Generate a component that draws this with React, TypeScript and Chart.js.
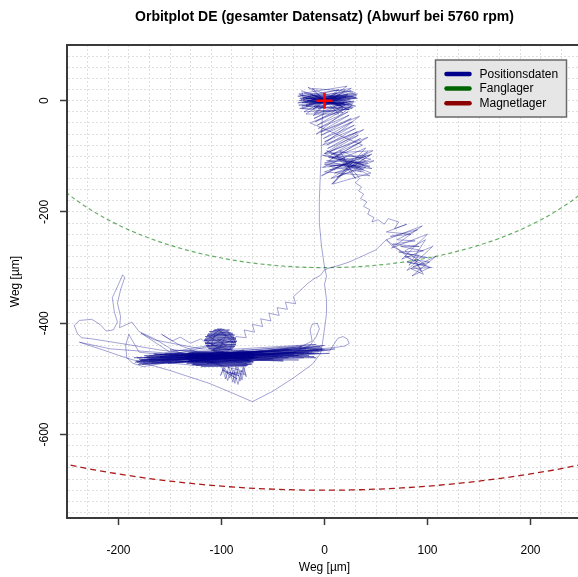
import React, { useEffect, useRef } from "react";
import { Chart, registerables } from "chart.js";

Chart.register(...registerables);

const TITLE = "Orbitplot DE (gesamter Datensatz) (Abwurf bei 5760 rpm)";
const X_LABEL = "Weg [µm]";
const Y_LABEL = "Weg [µm]";
const X_MIN = -250;
const X_MAX = 250;
const Y_MIN = -750;
const Y_MAX = 100;
const X_TICKS = [-200, -100, 0, 100, 200];
const Y_TICKS = [0, -200, -400, -600];

const SERIES_LABELS = ["Positionsdaten", "Fanglager", "Magnetlager"];
const SERIES_COLORS = ["#00008B", "#006400", "#8B0000"];

// Fanglager (radius 300), lower arc
const fangX = [-275, -250, -225, -200, -175, -150, -125, -100, -75, -50, -25, 0, 25, 50, 75, 100, 125, 150, 175, 200, 225, 250, 275];
const fangY = [-119.9, -165.8, -198.4, -223.6, -243.7, -259.8, -272.7, -282.8, -290.5, -295.8, -299.0, -300, -299.0, -295.8, -290.5, -282.8, -272.7, -259.8, -243.7, -223.6, -198.4, -165.8, -119.9];

// Magnetlager (radius 700), lower arc
const magX = [-300, -275, -250, -225, -200, -175, -150, -125, -100, -75, -50, -25, 0, 25, 50, 75, 100, 125, 150, 175, 200, 225, 250, 275, 300];
const magY = [-632.5, -643.7, -653.8, -662.9, -670.8, -677.8, -683.7, -688.7, -692.8, -696.0, -698.2, -699.6, -700, -699.6, -698.2, -696.0, -692.8, -688.7, -683.7, -677.8, -670.8, -662.9, -653.8, -643.7, -632.5];

// Position trace, pieces in time order [x, y]
const traceOrigin = [
  [0, 0], [-18, 4], [22, -3], [-15, -6], [28, 8], [-20, 2], [18, -10], [-12, 10], [25, 3], [-22, -4],
  [15, 12], [-8, -12], [30, 5], [-25, 0], [20, -6], [-16, 8], [26, -2], [-10, -10], [12, 14], [-20, 6],
  [24, -8], [-14, -2], [32, 12], [-18, -8], [16, 4], [-24, 4], [22, 10], [-6, -14], [28, -4], [-20, -2],
  [-22, 18], [24, -16], [-20, -20], [26, 22], [-26, 8], [30, -10], [-16, 24], [18, -22], [-24, -14], [28, 16],
  [-12, 22], [14, -24], [-18, -24], [22, 26], [-25, 12], [27, -14], [-10, -22], [20, 18], [-22, -10], [31, 6],
  [-24, 10], [28, -12], [-22, -14], [30, 14], [-26, -4], [32, 4], [-20, 14], [24, -16], [-18, -10], [26, 18],
  [-23, 2], [27, -8], [-14, 12], [18, -14], [-25, -8], [31, 9], [-17, 0], [21, 6], [-11, -15], [14, 20],
  [-21, 5], [29, -2], [-9, 8], [19, -5], [-19, -3], [23, 11], [-13, 3], [16, -9], [-6, 6], [4, -2],
];
const traceUpper = [
  [-11, -27], [19, -3], [-10, -32], [20, -8], [-9, -38], [21, -14], [-7, -44], [23, -20], [-6, -50], [24, -26],
  [-4, -56], [26, -32], [-3, -62], [27, -38], [-1, -68], [29, -44], [0, -74], [30, -50], [2, -80], [32, -56],
  [3, -86], [33, -62], [5, -92], [35, -68], [6, -98], [36, -74], [7, -104], [37, -80],
  [-14, -40], [26, -10], [-8, -60], [34, -28], [-2, -80], [38, -52], [0, -95], [42, -66], [4, -108],
  [20, -105], [-2, -98], [44, -118], [0, -112], [40, -100], [5, -125], [42, -112], [2, -108], [38, -125], [8, -95],
  [45, -105], [10, -130], [35, -118], [0, -115], [46, -122], [12, -100], [30, -140], [15, -90], [40, -108], [5, -118],
  [36, -128], [18, -112], [28, -104], [22, -120], [7, -150], [42, -92], [-3, -135], [47, -90], [0, -95], [45, -130],
  [8, -150], [40, -85], [-2, -120], [48, -108], [12, -138], [44, -98], [4, -102], [38, -115], [2, -90], [44, -135],
  [0, -128], [46, -96], [6, -140], [40, -120], [20, -115],
];
const traceRidge = [
  [30, -130], [34, -140], [30, -148], [36, -155], [33, -162], [38, -168], [35, -176], [41, -182], [38, -190], [44, -196],
  [42, -204], [48, -210], [46, -218], [52, -214], [58, -222], [62, -212], [72, -218], [68, -230], [80, -222], [60, -236],
  [84, -240], [64, -244], [90, -232], [70, -250], [88, -252], [66, -258], [92, -262], [74, -262], [96, -270], [72, -272],
  [100, -282], [78, -280], [98, -296], [80, -290], [104, -300], [84, -302], [96, -312], [88, -286], [102, -290], [86, -298],
  [94, -306], [90, -294], [60, -250], [95, -225], [65, -265], [100, -240], [75, -285], [105, -262], [80, -305], [108, -280],
  [85, -315], [102, -300], [78, -270], [98, -250], [82, -296], [92, -278], [80, -276], [66, -262], [60, -250],
];
const traceReturn = [
  [50, -268], [36, -280], [24, -290], [14, -296], [6, -300], [0, -304], [-4, -314], [-10, -320], [-16, -328], [-24, -342],
  [-30, -352], [-28, -365], [-38, -362], [-36, -375], [-46, -372], [-44, -386], [-54, -382], [-52, -396], [-62, -392], [-60, -406],
  [-70, -402], [-68, -416], [-78, -412], [-76, -426], [-86, -424], [-88, -436],
];
const traceHead = [
  [-104, -410], [-97, -411], [-108, -413], [-93, -414], [-111, -416], [-91, -417], [-113, -419], [-89, -420], [-114, -422], [-88, -423],
  [-115, -425], [-87, -426], [-116, -428], [-86, -429], [-117, -431], [-85, -432], [-116, -434], [-86, -435], [-116, -437], [-86, -438],
  [-115, -440], [-87, -441], [-114, -443], [-88, -444], [-112, -446], [-90, -447], [-110, -449], [-93, -450], [-105, -452],
  [-98, -451], [-109, -448], [-89, -446], [-113, -445], [-87, -442], [-115, -441], [-86, -439], [-116, -436], [-85, -433], [-117, -430],
  [-86, -427], [-116, -424], [-87, -421], [-114, -421], [-89, -418], [-112, -415], [-92, -412], [-107, -412], [-100, -410],
  [-112, -425], [-95, -440], [-108, -447], [-90, -430], [-100, -415], [-114, -435], [-92, -448], [-88, -425], [-106, -418], [-110, -440],
  [-96, -424], [-102, -446], [-116, -430], [-94, -414], [-86, -436], [-104, -428], [-98, -436],
];
const traceBand = [
  [-182, -470], [-5, -450], [-178, -466], [-2, -446], [-180, -472], [-10, -454], [-175, -462], [-4, -442], [-183, -468], [-15, -458],
  [-170, -458], [0, -440], [-181, -474], [-20, -462], [-165, -456], [-6, -448], [-176, -470], [-25, -466], [-160, -460], [-3, -444],
  [-179, -467], [-30, -456], [-155, -454], [-8, -438], [-172, -464], [-12, -452], [-168, -472], [-35, -462], [-150, -458], [-2, -448],
  [-184, -470], [-18, -446], [-162, -466], [-28, -452], [-173, -460], [-40, -468], [-145, -456], [-5, -454], [-177, -474], [-22, -442],
  [-158, -468], [-45, -460], [-166, -455], [-10, -460], [-180, -465], [-32, -448], [-152, -472], [-50, -456], [-170, -468], [-14, -444],
];
const traceRightEnd = [
  [5, -450], [13, -427], [18, -424], [22, -428], [24, -436], [20, -441], [8, -444], [-10, -447], [-25, -444], [-12, -432],
  [-14, -412], [-12, -402], [-7, -400], [-5, -410], [-8, -424], [-14, -440], [-30, -452], [-50, -456], [-20, -450], [10, -446],
  [-40, -462], [-60, -466],
];
const traceCore = [
  [-130, -452], [-70, -453], [-133, -454], [-68, -455], [-131, -456], [-72, -457], [-134, -458], [-69, -459], [-130, -460], [-71, -461],
  [-132, -462], [-68, -463], [-135, -464], [-70, -465], [-131, -466], [-73, -467], [-133, -468], [-69, -469], [-130, -470], [-72, -471],
  [-134, -472], [-70, -473], [-128, -474], [-74, -475], [-125, -476], [-76, -477], [-120, -478],
  [-75, -476], [-129, -475], [-71, -474], [-133, -471], [-69, -470], [-131, -467], [-72, -466], [-134, -463], [-70, -462], [-130, -459],
  [-68, -458], [-133, -455], [-71, -454], [-129, -453], [-74, -451],
  [-131, -457], [-67, -460], [-132, -465], [-70, -468], [-128, -472], [-73, -464], [-135, -461], [-69, -456], [-126, -469], [-75, -473],
  [-132, -452],
];
const traceTail = [
  [-100, -476], [-96, -500], [-93, -478], [-89, -506], [-86, -478], [-82, -504], [-79, -478], [-76, -496], [-78, -480], [-80, -502],
  [-84, -479], [-87, -508], [-90, -480], [-94, -503], [-98, -479], [-101, -494], [-97, -480], [-92, -498], [-88, -484], [-84, -510],
  [-81, -486], [-77, -492], [-95, -488], [-85, -500], [-99, -484], [-83, -494], [-91, -491], [-79, -486],
];
const traceLeft = [
  [-130, -462], [-150, -445], [-165, -428], [-180, -415], [-187, -398], [-199, -408], [-198, -388], [-201, -364], [-198, -340], [-194, -318],
  [-196, -313], [-200, -330], [-206, -354], [-204, -380], [-201, -398], [-205, -412], [-212, -414], [-218, -402], [-226, -393], [-238, -395],
  [-243, -404], [-240, -418], [-236, -426], [-226, -428], [-192, -438], [-160, -448], [-112, -460], [-140, -440], [-158, -420], [-148, -432],
  [-140, -425], [-130, -436], [-120, -428], [-112, -440], [-150, -452], [-178, -418], [-165, -430], [-120, -446], [-80, -450], [-60, -452],
  [-100, -458], [-150, -458], [-180, -452], [-190, -420], [-193, -440], [-192, -462], [-186, -472], [-176, -478], [-150, -470], [-100, -465],
  [-40, -460], [-80, -470], [-130, -475], [-170, -468], [-182, -462],
];
const traceBand2 = [
  [-60, -450], [-160, -462], [-15, -452], [-175, -458], [-40, -466], [-145, -470], [5, -454], [-185, -462], [-25, -458], [-150, -448],
  [-8, -462], [-170, -466], [-35, -446], [-130, -468], [0, -448], [-160, -456], [-50, -464], [-120, -458], [-20, -454], [-142, -462],
  [-75, -456], [-112, -466], [-68, -452], [-118, -456], [-72, -468], [-108, -450], [-64, -462], [-114, -472], [-78, -448], [-106, -460],
  [-208, -446], [-238, -434],
];
const traceBottom = [
  [-215, -448], [-193, -462], [-150, -485], [-112, -508], [-90, -525], [-70, -541], [-50, -522], [-30, -498], [-12, -474], [-4, -455],
  [-2, -436], [0, -410], [2, -382], [2, -358], [0, -330], [2, -316], [0, -299], [-3, -260], [-5, -220], [-5, -178],
  [-4, -130], [-3, -90], [-3, -65], [-2, -29], [0, -10],
];

const traceAll = [
  ...traceOrigin, ...traceUpper, ...traceRidge, ...traceReturn, ...traceHead, ...traceBand,
  ...traceRightEnd, ...traceCore, ...traceTail, ...traceLeft, ...traceBand2, ...traceBottom,
];

const FONT = "'Liberation Sans', Arial, Helvetica, sans-serif";

const xGrid: number[] = [];
for (let v = -230; v <= 250; v += 20) xGrid.push(v);
const yGrid: number[] = [];
for (let v = -740; v <= 100; v += 20) yGrid.push(v);
const xTickVals = Array.from(new Set([...xGrid, ...X_TICKS])).sort((a, b) => a - b);
const yTickVals = Array.from(new Set([...yGrid, ...Y_TICKS])).sort((a, b) => a - b);

const GRID_COLOR = "#e0e0e0";
const AXIS_COLOR = "#3a3a3a";

const decorPlugin = {
  id: "decor",
  afterDraw(chart: any) {
    const { ctx, chartArea: a } = chart;
    ctx.save();
    ctx.strokeStyle = AXIS_COLOR;
    ctx.lineWidth = 2;
    ctx.beginPath();
    ctx.moveTo(a.left - 1, a.top);
    ctx.lineTo(a.right + 2, a.top);
    ctx.stroke();
    ctx.beginPath();
    ctx.moveTo(a.right, a.top);
    ctx.lineTo(a.right, a.bottom);
    ctx.stroke();

    const cx = (a.left + a.right) / 2;
    ctx.fillStyle = "#000";
    ctx.textAlign = "center";
    ctx.textBaseline = "middle";
    ctx.font = `bold 14px ${FONT}`;
    ctx.fillText(TITLE, cx, 17);
    ctx.font = `12px ${FONT}`;
    ctx.fillText(X_LABEL, cx, 568);
    ctx.save();
    ctx.translate(16, (a.top + a.bottom) / 2);
    ctx.rotate(-Math.PI / 2);
    ctx.fillText(Y_LABEL, 0, 0);
    ctx.restore();

    const bx = a.right - 146.5;
    const by = a.top + 15;
    const bw = 131;
    const bh = 57;
    ctx.fillStyle = "#e6e6e6";
    ctx.fillRect(bx, by, bw, bh);
    ctx.strokeStyle = "#6a6a6a";
    ctx.lineWidth = 1.5;
    ctx.strokeRect(bx, by, bw, bh);
    ctx.textAlign = "left";
    ctx.font = `12px ${FONT}`;
    SERIES_LABELS.forEach((lab, i) => {
      const yy = by + 14 + i * 14.6;
      ctx.strokeStyle = SERIES_COLORS[i];
      ctx.lineWidth = 4.5;
      ctx.lineCap = "round";
      ctx.beginPath();
      ctx.moveTo(bx + 11, yy);
      ctx.lineTo(bx + 34, yy);
      ctx.stroke();
      ctx.fillStyle = "#000";
      ctx.fillText(lab, bx + 44, yy + 0.5);
    });
    ctx.restore();
  },
};

export default function App() {
  const ref = useRef<HTMLCanvasElement>(null);

  useEffect(() => {
    if (!ref.current) return;
    const traceA = "rgba(0,0,139,0.36)";
    const traceB = "rgba(0,0,139,0.361)";
    const chart = new Chart(ref.current, {
      type: "scatter",
      data: {
        datasets: [
          {
            label: "Kreuz",
            data: [{ x: 0, y: 0 }],
            pointStyle: "cross",
            pointRadius: 8,
            borderColor: "#ff0000",
            backgroundColor: "#ff0000",
            borderWidth: 2.5,
            showLine: false,
            order: 0,
          } as any,
          {
            label: SERIES_LABELS[0],
            data: traceAll.map(([x, y]) => ({ x, y })),
            showLine: true,
            pointRadius: 0,
            borderWidth: 1,
            borderColor: traceA,
            segment: {
              borderColor: (c: any) => (c.p0DataIndex % 2 ? traceA : traceB),
            },
            order: 1,
          } as any,
          {
            label: SERIES_LABELS[1],
            data: fangX.map((x, i) => ({ x, y: fangY[i] })),
            showLine: true,
            pointRadius: 0,
            borderWidth: 1.2,
            borderColor: "rgba(0,120,0,0.6)",
            borderDash: [4, 3],
            cubicInterpolationMode: "monotone",
            order: 2,
          } as any,
          {
            label: SERIES_LABELS[2],
            data: magX.map((x, i) => ({ x, y: magY[i] })),
            showLine: true,
            pointRadius: 0,
            borderWidth: 1.3,
            borderColor: "rgba(160,0,0,0.9)",
            borderDash: [6, 4],
            cubicInterpolationMode: "monotone",
            order: 3,
          } as any,
        ],
      },
      options: {
        responsive: false,
        animation: false,
        events: [],
        layout: { padding: { top: 45, left: 0, right: 17.5, bottom: 0 } },
        plugins: {
          legend: { display: false },
          title: { display: false },
          tooltip: { enabled: false },
        },
        scales: {
          x: {
            type: "linear",
            min: X_MIN,
            max: X_MAX,
            afterBuildTicks: (s: any) => {
              s.ticks = xTickVals.map((value) => ({ value }));
            },
            afterFit: (s: any) => {
              s.height = 59;
            },
            ticks: {
              autoSkip: false,
              minRotation: 0,
              maxRotation: 0,
              padding: 18,
              color: "#000",
              font: { family: FONT, size: 12 },
              callback: (v: any) => (X_TICKS.includes(Number(v)) ? String(v) : ""),
            },
            grid: {
              color: (c: any) => (c.tick && X_TICKS.includes(c.tick.value) ? "rgba(0,0,0,0)" : GRID_COLOR),
              tickColor: (c: any) => (c.tick && X_TICKS.includes(c.tick.value) ? AXIS_COLOR : "rgba(0,0,0,0)"),
              tickLength: 7,
              tickWidth: 1.5,
              tickBorderDash: [],
              lineWidth: 1,
            },
            border: { display: true, color: AXIS_COLOR, width: 2, dash: [2, 2] },
          },
          y: {
            type: "linear",
            min: Y_MIN,
            max: Y_MAX,
            afterBuildTicks: (s: any) => {
              s.ticks = yTickVals.map((value) => ({ value }));
            },
            afterFit: (s: any) => {
              s.width = 67;
            },
            ticks: {
              autoSkip: false,
              minRotation: 90,
              maxRotation: 90,
              crossAlign: "center",
              padding: 3,
              color: "#000",
              font: { family: FONT, size: 12 },
              callback: (v: any) => (Y_TICKS.includes(Number(v)) ? String(v) : ""),
            },
            grid: {
              color: GRID_COLOR,
              tickColor: (c: any) => (c.tick && Y_TICKS.includes(c.tick.value) ? AXIS_COLOR : "rgba(0,0,0,0)"),
              tickLength: 7,
              tickWidth: 1.5,
              tickBorderDash: [],
              lineWidth: 1,
            },
            border: { display: true, color: AXIS_COLOR, width: 2, dash: [2, 2] },
          },
        },
      } as any,
      plugins: [decorPlugin],
    });
    return () => chart.destroy();
  }, []);

  return (
    <div
      style={{
        position: "fixed",
        left: 0,
        top: 0,
        width: 578,
        height: 577,
        overflow: "hidden",
        background: "#fff",
      }}
    >
      <canvas ref={ref} width={600} height={577} style={{ display: "block", width: 600, height: 577 }} />
    </div>
  );
}
